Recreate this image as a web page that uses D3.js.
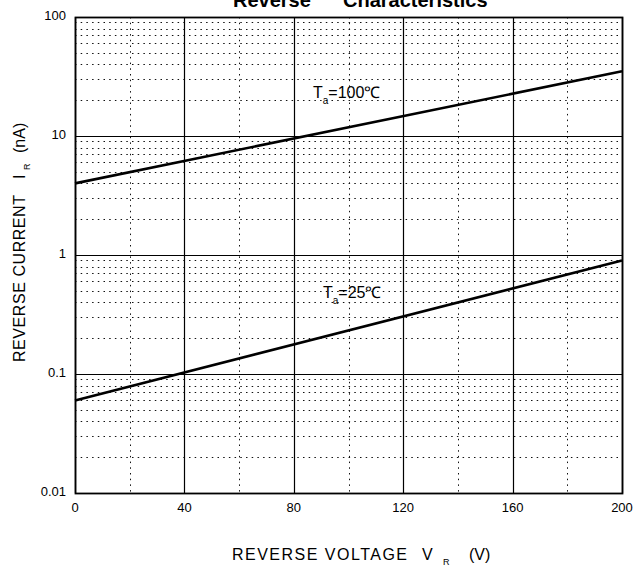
<!DOCTYPE html>
<html><head><meta charset="utf-8">
<script src="https://cdn.jsdelivr.net/npm/d3@7"></script>
<style>body{margin:0;background:#fff;}svg{display:block;font-family:"Liberation Sans",Arial,sans-serif;}</style>
</head><body>
<svg id="c" width="635" height="566"></svg>
<script>
const xTicks = [0, 40, 80, 120, 160, 200];
const xMinor = [20, 60, 100, 140, 180];
const yTicks = [0.01, 0.1, 1, 10, 100];
const yTickLabels = ["0.01", "0.1", "1", "10", "100"];
const vR = [0, 200];
const ir100 = [4.0, 35];
const ir25 = [0.06, 0.9];

const svg = d3.select("#c");
const m = {l: 75, r: 622, t: 17, b: 493};
const x = d3.scaleLinear().domain([0, 200]).range([m.l, m.r]);
const y = d3.scaleLog().domain([0.01, 100]).range([m.b, m.t]);
const px = v => Math.round(v) + 0.5;

// minor grid (dotted)
const minorY = [];
[0.01, 0.1, 1, 10].forEach(d => { for (let k = 2; k <= 9; k++) minorY.push(d * k); });
svg.append("g").selectAll("line").data(minorY).join("line")
  .attr("x1", m.l).attr("x2", m.r).attr("y1", d => px(y(d))).attr("y2", d => px(y(d)))
  .attr("stroke", "#111").attr("stroke-width", 1).attr("stroke-dasharray", "1.5,4.2");
svg.append("g").selectAll("line").data(xMinor).join("line")
  .attr("y1", m.t).attr("y2", m.b).attr("x1", d => px(x(d))).attr("x2", d => px(x(d)))
  .attr("stroke", "#111").attr("stroke-width", 1).attr("stroke-dasharray", "1.5,4.2");
// major grid
svg.append("g").selectAll("line").data(yTicks).join("line")
  .attr("x1", m.l).attr("x2", m.r).attr("y1", d => px(y(d))).attr("y2", d => px(y(d)))
  .attr("stroke", "#000").attr("stroke-width", 1.2);
svg.append("g").selectAll("line").data(xTicks).join("line")
  .attr("y1", m.t).attr("y2", m.b).attr("x1", d => px(x(d))).attr("x2", d => px(x(d)))
  .attr("stroke", "#000").attr("stroke-width", 1.2);
svg.append("rect").attr("x", px(m.l)).attr("y", px(m.t)).attr("width", Math.round(m.r - m.l)).attr("height", Math.round(m.b - m.t))
  .attr("fill", "none").attr("stroke", "#000").attr("stroke-width", 1.8);

// tick labels
svg.append("g").selectAll("text").data(yTicks).join("text")
  .attr("x", 66).attr("y", d => y(d) + 3).attr("text-anchor", "end")
  .attr("font-size", 13).text((d, i) => yTickLabels[i]);
svg.append("g").selectAll("text").data(xTicks).join("text")
  .attr("x", d => x(d)).attr("y", 512).attr("text-anchor", "middle")
  .attr("font-size", 13).text(d => d);

// curves
const line = d3.line().x(d => x(d[0])).y(d => y(d[1]));
[ir100, ir25].forEach(s => {
  svg.append("path").datum(vR.map((v, i) => [v, s[i]])).attr("d", line)
    .attr("fill", "none").attr("stroke", "#000").attr("stroke-width", 2.6);
});

function label(xp, yp, t) {
  const tx = svg.append("text").attr("x", xp).attr("y", yp).attr("font-size", 16);
  tx.append("tspan").text("T");
  tx.append("tspan").attr("font-size", 10).attr("dy", 6).text("a");
  tx.append("tspan").attr("dy", -6).text(t);
}
label(313, 98, "=100℃");
label(323, 298, "=25℃");

// title
const tt = svg.append("text").attr("y", 7).attr("font-size", 20).attr("font-weight", "bold");
tt.append("tspan").attr("x", 233).text("Reverse");
tt.append("tspan").attr("x", 343).text("Characteristics");

// x axis title
const xt = svg.append("text").attr("y", 560).attr("font-size", 16);
xt.append("tspan").attr("x", 232).attr("textLength", 175).attr("lengthAdjust", "spacing").text("REVERSE VOLTAGE");
xt.append("tspan").attr("x", 422).text("V");
xt.append("tspan").attr("x", 443).attr("font-size", 9).attr("dy", 5).text("R");
xt.append("tspan").attr("x", 469).attr("dy", -5).text("(V)");

// y axis title
const yt = svg.append("text").attr("transform", "translate(25,0) rotate(-90)").attr("font-size", 16);
yt.append("tspan").attr("x", -362).attr("textLength", 167).attr("lengthAdjust", "spacing").text("REVERSE CURRENT");
yt.append("tspan").attr("x", -179).text("I");
yt.append("tspan").attr("x", -170).attr("font-size", 9).attr("dy", 5).text("R");
yt.append("tspan").attr("x", -153).attr("dy", -5).text("(nA)");
</script>
</body></html>
